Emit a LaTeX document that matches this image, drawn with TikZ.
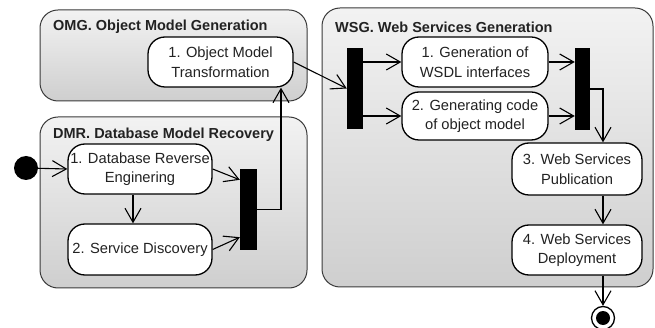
\documentclass[tikz,border=0pt]{standalone}
\usepackage{fontspec}
\setmainfont{Liberation Sans}
\usetikzlibrary{arrows.meta,calc}
\definecolor{txt}{HTML}{222222}
\definecolor{frame}{HTML}{3A3A3A}
\tikzset{
  grp/.style={draw=frame, line width=1pt, rounded corners=18pt, top color=gray!10, bottom color=gray!38},
  title/.style={anchor=west, font=\fontsize{14.5}{17}\selectfont\bfseries, text=txt, inner sep=0pt},
  act/.style={draw=black, line width=1.3pt, fill=white, rounded corners=17pt, align=center,
     font=\fontsize{14.7}{19.5}\selectfont, text=txt, inner sep=0pt},
  bar/.style={fill=black, draw=none, inner sep=0pt},
  conn/.style={line width=1.1pt, -{Straight Barb[length=14pt,width=16pt,line width=1.1pt]}},
}
\begin{document}
\begin{tikzpicture}[x=1pt,y=-1pt]
\useasboundingbox (0,0) rectangle (655,328);
% group boxes
\path[grp] (40,10) rectangle (307,101);
\path[grp] (40,117) rectangle (307,288);
\path[grp] (322,8) rectangle (653,287);
\node[title] (tomg) at (53,27) {OMG. Object Model Generation};
\node[title] (tdmr) at (53,135) {DMR. Database Model Recovery};
\node[title] (twsg) at (335,27) {WSG. Web Services Generation};
% activities
\node[act, minimum width=145pt, minimum height=50pt] (omg) at (220.5,62) {1. Object Model\\Transformation};
\node[act, minimum width=144pt, minimum height=50pt] (d1) at (140,169) {1. Database Reverse\\Enginering};
\node[act, minimum width=144pt, minimum height=51pt] (d2) at (140,249.5) {2. Service Discovery};
\node[act, minimum width=146pt, minimum height=50pt] (w1) at (475,62) {1. Generation of\\WSDL interfaces};
\node[act, minimum width=146pt, minimum height=48pt] (w2) at (475,116) {2. Generating code\\of object model};
\node[act, minimum width=130pt, minimum height=52pt] (w3) at (577,169) {3. Web Services\\Publication};
\node[act, minimum width=130pt, minimum height=50pt] (w4) at (577,250) {4. Web Services\\Deployment};
% bars
\node[bar, minimum width=17pt, minimum height=81pt] (dbar) at (248.5,209.5) {};
\node[bar, minimum width=16pt, minimum height=81pt] (fbar) at (355,88.5) {};
\node[bar, minimum width=15pt, minimum height=82pt] (jbar) at (582.5,89) {};
% start / end
\node[circle, fill=black, minimum size=24pt, inner sep=0pt] (start) at (26,168) {};
\node[circle, draw=black, line width=1.3pt, fill=white, minimum size=23pt, inner sep=0pt] (end) at (603,318) {};
\fill[black] (end.center) circle (7pt);
% connectors
\draw[conn] (start) -- (d1.west);
\draw[conn] ([xshift=-7pt]d1.south) -- ([xshift=-7pt]d2.north);
\draw[conn] (d1.east) -- ([yshift=-11pt]dbar.north west);
\draw[conn] (d2.east) -- ([yshift=13pt]dbar.south west);
\draw[conn] (dbar.east) -| ([xshift=60.5pt]omg.south);
\draw[conn] (omg.east) -- (fbar.west);
\draw[conn] (w1.west -| fbar.east) -- (w1.west);
\draw[conn] (w2.west -| fbar.east) -- (w2.west);
\draw[conn] (w1.east) -- (w1.east -| jbar.west);
\draw[conn] (w2.east) -- (w2.east -| jbar.west);
\draw[conn] (jbar.east) -| ([xshift=26pt]w3.north);
\draw[conn] ([xshift=26pt]w3.south) -- ([xshift=26pt]w4.north);
\draw[conn] ([xshift=26pt]w4.south) -- (end.north);
\end{tikzpicture}
\end{document}
